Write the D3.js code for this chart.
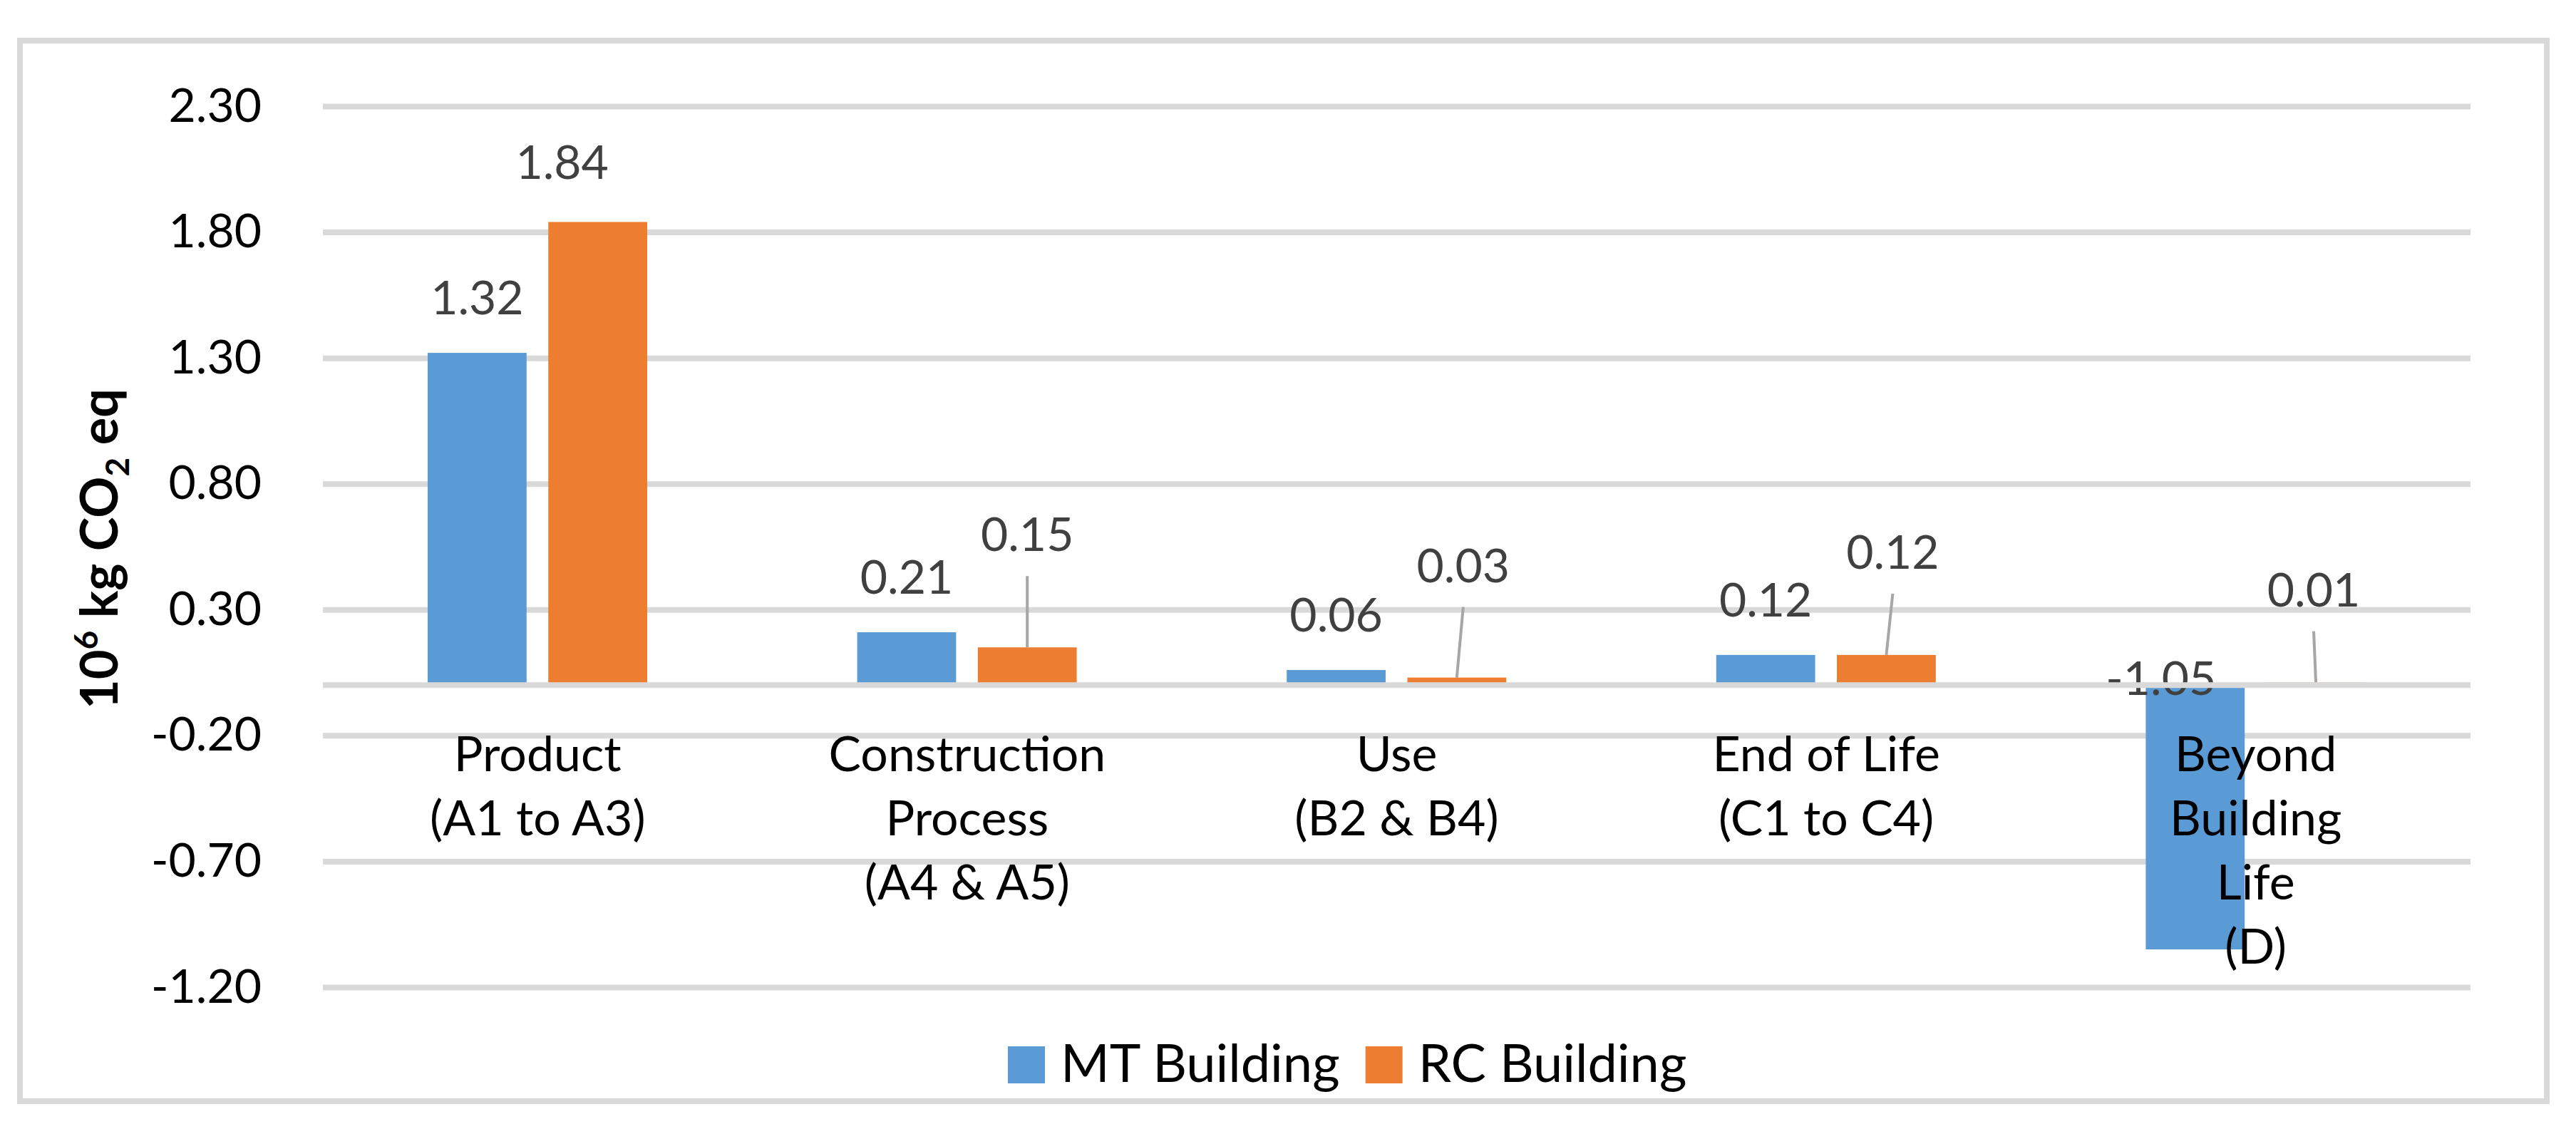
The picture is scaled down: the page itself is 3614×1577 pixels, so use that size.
<!DOCTYPE html>
<html>
<head>
<meta charset="utf-8">
<script src="https://cdn.jsdelivr.net/npm/d3@7"></script>
<style>
  body { margin: 0; background: #fff; }
  text { font-family: Lato, "Open Sans", sans-serif; }
</style>
</head>
<body>
<svg id="chart"></svg>
<script>
// ---- data ----
const categories = [
  ["Product", "(A1 to A3)"],
  ["Construction", "Process", "(A4 & A5)"],
  ["Use", "(B2 & B4)"],
  ["End of Life", "(C1 to C4)"],
  ["Beyond", "Building", "Life", "(D)"]
]
const seriesNames = ["MT Building", "RC Building"]
const mtValues = [1.32, 0.21, 0.06, 0.12, -1.05]
const rcValues = [1.84, 0.15, 0.03, 0.12, 0.01]
const yTicks = [2.3, 1.8, 1.3, 0.8, 0.3, -0.2, -0.7, -1.2]

// labels that were dragged away from the bar in the original (pixels)
const mtLabelNudge = [[0, 0], [0, 0], [0, 0], [0, 0], [-48, 68]]
const rcLabelNudge = [[-50, -6], [0, -81], [9, -80], [9, -67], [-3, -53]]

const colors = {"MT Building": "#5B9BD5", "RC Building": "#ED7D31"}

// ---- layout ----
const width = 3614, height = 1577
const plot = {left: 453, right: 3466, top: 149, bottom: 1385}

const svg = d3.select("#chart")
  .attr("width", width)
  .attr("height", height)

svg.append("rect").attr("width", width).attr("height", height).attr("fill", "#fff")

// chart border
svg.append("rect")
  .attr("x", 28).attr("y", 57)
  .attr("width", 3545).attr("height", 1488)
  .attr("fill", "none")
  .attr("stroke", "#d9d9d9")
  .attr("stroke-width", 8)

const y = d3.scaleLinear().domain([-1.2, 2.3]).range([plot.bottom, plot.top])
const x0 = d3.scaleBand().domain(d3.range(categories.length)).range([plot.left, plot.right])
const x1 = d3.scaleBand().domain(seriesNames).range([147, 455]).paddingInner(0.18)

// gridlines
const grid = svg.append("g")
  .attr("transform", `translate(${plot.left},0)`)
  .call(d3.axisLeft(y).tickValues(yTicks).tickSize(-(plot.right - plot.left)).tickFormat(""))
grid.select(".domain").remove()
grid.selectAll("line").attr("stroke", "#d9d9d9").attr("stroke-width", 8)

// y tick labels
const yAxis = svg.append("g")
  .attr("transform", "translate(367,0)")
  .call(d3.axisLeft(y).tickValues(yTicks).tickSize(0).tickPadding(0).tickFormat(d => d.toFixed(2)))
yAxis.select(".domain").remove()
yAxis.selectAll("text")
  .attr("font-family", "Lato, sans-serif")
  .attr("font-size", 66)
  .attr("fill", "#000")

// bars
const rows = categories.map((c, i) => ({
  i,
  values: [
    {key: "MT Building", value: mtValues[i], nudge: mtLabelNudge[i]},
    {key: "RC Building", value: rcValues[i], nudge: rcLabelNudge[i]}
  ]
}))

const groups = svg.append("g").selectAll("g")
  .data(rows)
  .join("g")
  .attr("transform", d => `translate(${x0(d.i)},0)`)

groups.selectAll("rect")
  .data(d => d.values)
  .join("rect")
  .attr("x", d => x1(d.key))
  .attr("y", d => y(Math.max(d.value, 0)))
  .attr("width", x1.bandwidth())
  .attr("height", d => Math.abs(y(d.value) - y(0)))
  .attr("fill", d => colors[d.key])

// zero line sits over the bars
svg.append("line")
  .attr("x1", plot.left).attr("x2", plot.right)
  .attr("y1", y(0)).attr("y2", y(0))
  .attr("stroke", "#d9d9d9")
  .attr("stroke-width", 8)

// category labels
svg.append("g").selectAll("text")
  .data(categories)
  .join("text")
  .attr("x", (d, i) => x0(i) + x0.bandwidth() / 2)
  .attr("y", 1082)
  .attr("text-anchor", "middle")
  .attr("font-size", 68)
  .attr("fill", "#000")
  .selectAll("tspan")
  .data(d => d)
  .join("tspan")
  .attr("x", function() { return this.parentNode.getAttribute("x") })
  .attr("dy", (d, j) => j === 0 ? 0 : 90)
  .text(d => d)

// data labels + leader lines
groups.each(function(row) {
  const g = d3.select(this)
  row.values.forEach(d => {
    const cx = x1(d.key) + x1.bandwidth() / 2
    const top = y(Math.max(d.value, 0))
    const lx = cx + d.nudge[0]
    const ly = top - 54 + d.nudge[1]
    if (d.nudge[1] < -40) {
      g.append("line")
        .attr("x1", lx).attr("y1", ly + 35)
        .attr("x2", cx).attr("y2", top)
        .attr("stroke", "#a6a6a6")
        .attr("stroke-width", 4)
    }
    g.append("text")
      .attr("x", lx)
      .attr("y", ly)
      .attr("text-anchor", "middle")
      .attr("font-size", 66)
      .attr("fill", "#404040")
      .text(d.value.toFixed(2))
  })
})

// y axis title
const title = svg.append("text")
  .attr("transform", `translate(165,${(plot.top + plot.bottom) / 2 + 3}) rotate(-90)`)
  .attr("text-anchor", "middle")
  .attr("font-size", 72)
  .attr("font-weight", "bold")
  .attr("fill", "#000")
title.append("tspan").text("10")
title.append("tspan").attr("font-size", 46).attr("baseline-shift", "28").text("6")
title.append("tspan").text(" kg CO")
title.append("tspan").attr("font-size", 46).attr("baseline-shift", "-16").text("2")
title.append("tspan").text(" eq")

// legend
const legend = svg.append("g")
let lxPos = 1414
seriesNames.forEach(name => {
  legend.append("rect")
    .attr("x", lxPos).attr("y", 1468)
    .attr("width", 52).attr("height", 52)
    .attr("fill", colors[name])
  const t = legend.append("text")
    .attr("x", lxPos + 74)
    .attr("y", 1518)
    .attr("font-size", 74)
    .attr("fill", "#000")
    .text(name)
  lxPos = lxPos + 74 + t.node().getComputedTextLength() + 36
})
</script>
</body>
</html>
